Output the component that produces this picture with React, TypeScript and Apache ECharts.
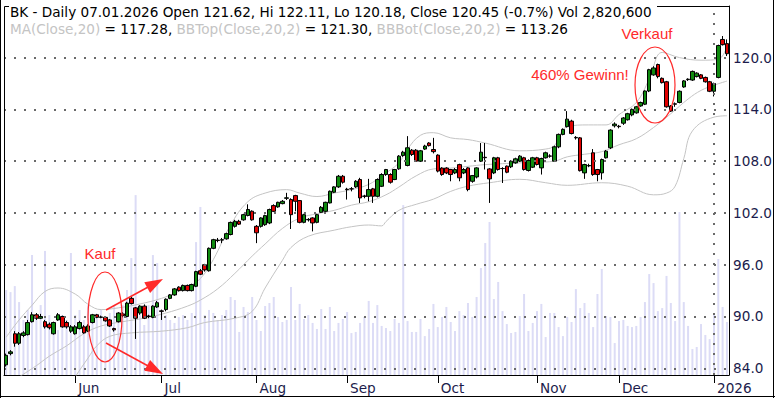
import React, { useEffect, useRef } from 'react';
import * as echarts from 'echarts';

const N = 168;
const categories: string[] = Array.from({ length: N }, (_, i) => String(i));
const monthStarts = [16, 36, 58, 79, 100, 123, 142, 164];
const monthLabels = ['Jun', 'Jul', 'Aug', 'Sep', 'Oct', 'Nov', 'Dec', '2026'];
const priceTicks = [84, 90, 96, 102, 108, 114, 120];

const opens = [84.4,85.7,88.0,86.9,87.8,87.9,89.4,90.2,89.8,89.4,89.1,88.0,89.6,90.0,89.3,88.3,88.0,88.6,88.8,88.3,
89.3,90.2,89.95,89.9,89.6,88.6,89.4,90.3,90.0,92.1,91.0,90.4,91.2,90.05,89.9,91.1,90.65,90.8,92.1,92.5,
93.4,93.0,93.6,93.0,93.5,95.3,96.0,95.3,97.9,98.85,98.85,99.0,99.5,100.45,101.03,101.2,101.7,102.2,100.45,100.45,
100.64,100.84,102.85,102.7,103.08,103.7,103.55,104.01,103.43,100.91,101.25,101.42,100.91,102.07,102.19,103.16,104.4,105.02,106.25,104.75,
104.8,105.02,105.87,103.95,103.93,104.79,103.93,105.09,106.45,106.45,105.87,107.11,108.66,107.5,109.27,109.27,108.0,109.4,110.1,109.35,
108.7,107.2,107.2,107.03,106.64,107.6,106.64,107.22,105.67,106.17,108.0,108.45,107.1,106.64,108.39,107.15,107.42,107.35,107.8,108.0,
108.39,106.92,107.3,108.39,107.22,108.39,108.6,108.0,109.66,111.1,112.0,112.64,110.75,110.7,106.64,107.5,108.97,107.03,106.64,108.39,
109.55,112.1,112.05,112.4,112.8,113.36,113.6,114.4,114.6,116.13,118.0,119.2,117.6,117.2,114.4,114.65,114.8,116.6,117.45,117.4,
117.8,118.0,117.7,117.2,116.1,117.7,122.1,121.62];

const closes = [85.5,85.9,86.9,88.0,88.1,89.3,90.2,89.8,90.0,88.8,88.7,89.3,90.2,88.8,88.8,88.8,88.8,89.3,88.1,88.9,
90.2,89.9,89.9,89.5,88.9,88.45,90.4,90.1,91.55,91.5,89.8,91.2,89.8,90.0,91.2,91.6,90.6,92.0,92.5,93.2,
93.0,93.6,93.0,93.7,95.2,94.9,95.4,97.9,98.9,98.8,98.9,99.6,100.9,101.03,100.7,101.8,102.4,101.2,99.7,101.42,
101.69,102.39,102.19,103.23,103.35,103.75,101.8,103.35,100.91,101.8,101.2,100.84,101.8,102.65,103.23,104.51,105.02,106.25,105.56,104.7,
104.79,105.67,103.74,103.93,104.71,103.93,105.87,106.45,107.03,105.56,107.03,108.58,109.04,109.55,108.77,108.0,109.2,109.75,109.8,109.1,
106.85,106.45,106.64,106.45,107.03,106.07,107.03,104.71,106.33,107.22,109.04,108.4,105.95,108.39,107.03,107.14,106.72,108.0,108.27,108.58,
107.03,108.08,108.39,107.61,108.31,108.97,108.58,109.66,111.1,111.68,112.87,111.2,110.7,106.9,107.61,107.45,106.45,106.45,108.19,109.16,
111.6,112.3,112.0,113.0,113.5,114.0,114.3,114.8,116.13,118.6,118.8,117.8,117.1,114.3,113.8,114.6,116.1,117.3,117.5,118.4,
118.2,117.6,117.2,116.1,117.0,121.4,121.5,120.45];

const lows = [84.2,85.5,86.5,86.7,87.6,87.8,89.3,89.6,89.7,88.6,88.5,87.9,89.5,88.7,88.6,88.1,87.9,88.5,88.0,88.2,
89.2,89.8,89.8,89.4,88.8,88.25,89.3,89.9,89.9,91.4,87.4,90.2,89.7,89.8,89.8,91.0,89.6,90.6,92.0,92.4,
92.9,92.9,92.9,92.9,93.4,94.8,95.2,95.2,97.8,98.6,98.5,98.9,99.4,100.3,100.6,101.1,101.6,101.1,98.5,100.3,
100.5,100.7,102.1,102.6,103.0,103.5,100.14,102.19,100.8,100.8,101.0,99.86,100.8,102.0,102.1,103.1,104.3,104.9,105.4,103.55,
104.5,104.9,103.16,103.7,103.35,103.16,103.8,105.0,106.3,105.4,105.8,107.0,108.5,107.4,108.6,107.9,107.9,109.3,109.7,108.9,
106.7,106.3,106.5,105.67,106.5,105.67,106.5,104.51,105.5,106.0,107.9,107.03,103.16,106.5,106.9,105.47,106.6,107.2,107.7,107.9,
106.9,106.8,107.2,107.5,106.45,108.3,108.4,107.9,109.5,111.0,111.9,111.1,110.5,106.8,105.95,107.3,106.3,105.67,105.87,108.3,
109.4,111.9,111.8,112.2,112.7,113.2,113.5,114.3,114.5,116.0,117.9,117.6,117.0,114.2,113.7,114.3,114.7,116.5,117.3,117.3,
117.7,117.5,117.1,116.0,115.5,117.6,121.4,120.18];

const highs = [85.7,86.1,88.3,88.2,88.3,89.6,90.5,90.4,90.3,89.6,89.3,89.4,90.4,90.1,89.5,89.0,89.0,89.5,89.0,89.1,
90.3,90.3,90.1,90.0,89.7,88.7,90.5,90.5,91.7,92.3,91.1,91.3,91.4,90.2,91.3,91.8,90.8,92.1,92.6,93.3,
93.5,93.7,93.7,93.8,95.3,95.5,96.1,98.0,99.0,99.1,99.1,99.7,101.0,101.2,101.2,101.9,103.0,102.3,100.6,101.5,
101.8,102.5,103.0,103.3,103.5,104.33,103.7,104.1,103.5,101.9,101.4,101.5,101.9,102.8,103.3,104.6,105.1,106.4,106.4,104.91,
105.0,105.8,106.07,104.1,105.95,104.9,106.0,106.6,107.1,106.6,107.1,108.7,109.2,110.9,109.4,109.4,109.3,109.9,110.2,110.7,
108.8,107.3,107.3,107.1,107.2,107.7,107.2,107.3,106.4,107.3,110.1,110.1,107.2,108.5,108.5,107.3,107.5,108.1,108.4,108.7,
108.5,108.2,108.5,108.5,108.4,109.1,108.8,109.8,111.2,111.8,113.8,112.8,110.9,110.8,107.7,107.7,109.4,107.1,108.3,109.3,
111.7,112.5,112.2,113.1,113.6,114.1,114.4,114.9,116.2,118.7,119.0,119.3,117.7,117.3,114.5,114.8,116.2,117.4,117.6,118.5,
118.3,118.1,117.8,117.3,117.1,121.5,122.5,122.11];

// volume in millions of shares
const volumes = [4.52,4.41,4.73,3.88,2.93,3.46,6.38,3.19,3.72,6.60,3.19,2.66,2.39,3.19,2.93,6.49,3.19,3.46,2.93,3.72,
3.19,3.19,3.46,2.93,3.30,3.72,3.19,3.72,4.52,6.22,9.57,3.46,2.66,3.72,6.38,5.96,3.46,3.19,2.93,2.77,
3.09,3.19,2.93,3.30,7.07,8.94,3.19,3.46,3.30,2.93,3.19,3.46,4.15,3.99,2.29,3.62,3.35,4.15,2.93,2.34,
3.67,3.83,4.15,3.09,2.82,2.93,4.68,2.93,3.78,2.98,3.19,2.77,2.45,3.51,2.45,3.62,2.34,2.77,2.98,3.35,
2.23,2.29,2.77,3.09,3.94,2.77,3.72,2.61,2.50,2.34,2.98,2.77,9.04,2.87,2.29,2.29,2.98,2.07,2.45,3.78,
2.55,3.09,3.62,2.82,2.34,3.40,3.19,3.83,3.09,4.15,5.69,7.02,8.14,4.04,4.95,3.40,2.71,2.23,2.29,3.14,
4.31,2.34,2.77,3.40,3.78,2.02,3.30,3.30,2.55,2.07,3.09,2.82,4.57,3.56,3.83,3.30,2.55,4.31,5.64,3.14,
3.09,1.70,2.87,2.93,2.61,2.55,2.61,3.09,3.88,5.37,4.89,3.40,3.56,5.27,3.83,2.87,8.67,3.88,2.61,1.38,
1.49,2.71,2.13,1.91,3.24,6.17,3.62,2.82];

// Bollinger band values read at bar indices [index, value]
const bbTop = [[0,87.6],[3,89.6],[6,91.3],[9,92.9],[12,93.3],[16,92.6],[19,91.4],[22,90.8],[26,91.0],[31,91.45],[36,92.1],[39,92.7],[42,93.4],[45,94.4],[48,96.6],[52,100.6],[56,103.3],[60,104.3],[65,104.7],[68,104.3],[72,103.9],[76,104.3],[80,104.7],[84,105.3],[87,106.3],[91,107.8],[93,109.4],[96,111.0],[99,111.3],[103,110.7],[107,110.5],[111,110.1],[119,109.2],[125,109.4],[127,109.8],[130,112.0],[135,112.2],[139,112.2],[142,113.4],[146,114.8],[149,117.5],[152,120.6],[156,120.0],[161,119.7],[165,119.8],[167,121.3]];
const bbMid = [[3,83.0],[7,84.3],[10,85.4],[14,86.6],[18,88.0],[22,88.9],[27,89.4],[32,89.8],[37,90.4],[42,91.2],[45,91.9],[49,93.2],[53,95.0],[57,97.0],[60,98.4],[64,100.2],[68,101.4],[72,101.9],[76,102.3],[80,102.9],[84,103.3],[88,104.1],[91,105.0],[95,106.3],[99,107.1],[103,107.2],[107,107.4],[111,107.6],[119,107.8],[127,108.0],[130,108.5],[134,108.8],[138,109.1],[142,109.9],[146,110.6],[150,111.9],[154,113.5],[158,115.2],[161,116.2],[164,116.8],[167,117.28]];
const bbBot = [[10,79.5],[14,81.3],[16,83.0],[19,85.2],[21,86.6],[24,87.7],[29,88.1],[36,88.3],[42,88.7],[46,89.3],[53,89.8],[57,90.6],[60,93.3],[64,96.5],[66,98.0],[70,99.3],[76,100.0],[80,100.4],[84,100.6],[87,100.5],[88,101.0],[91,102.3],[95,103.0],[99,103.6],[103,104.5],[107,105.1],[112,105.5],[119,105.9],[125,105.5],[130,105.2],[138,105.5],[144,105.1],[150,104.1],[153,104.3],[155,105.1],[157,108.3],[159,111.5],[164,113.1],[167,113.26]];

const headerLine1 = 'BK - Daily 07.01.2026 Open 121.62, Hi 122.11, Lo 120.18, Close 120.45 (-0.7%) Vol 2,820,600';

const GREEN = '#0f8a0f';
const RED = '#e00000';
const ANNO = '#ff2a2a';
const FONT = 'DejaVu Sans';
const FS = 13.6;

function buildOption() {
  const candleData = opens.map((o, i) => [o, closes[i], lows[i], highs[i]]);
  const bandStyle = { color: '#c4c4c4', width: 1 };
  const isMonth = (i: number) => monthStarts.indexOf(i) >= 0;
  const dotted = { type: [2, 8] as any, color: '#6a6a6a', width: 2 };
  return {
    animation: false,
    backgroundColor: '#ffffff',
    grid: { left: 4, right: 45, top: 6, bottom: 23, containLabel: false },
    xAxis: {
      type: 'category',
      data: categories,
      boundaryGap: true,
      axisLine: { show: true, lineStyle: { color: '#000', width: 1 } },
      axisTick: { show: true, alignWithLabel: true, length: 8, interval: (i: number) => isMonth(i), lineStyle: { color: '#000' } },
      axisLabel: {
        interval: (i: number) => isMonth(i),
        formatter: (_v: string, i: number) => monthLabels[monthStarts.indexOf(i)] || '',
        align: 'left',
        padding: [0, 0, 0, 3],
        margin: 6,
        color: '#1c1c4c',
        fontFamily: FONT,
        fontSize: FS,
      },
      splitLine: { show: false },
    },
    yAxis: [
      {
        type: 'value',
        position: 'right',
        min: 83.22,
        max: 125.98,
        axisLine: { show: true, lineStyle: { color: '#000', width: 1 } },
        axisTick: { show: false },
        splitLine: { show: false },
        axisLabel: {
          customValues: priceTicks,
          formatter: (v: number) => v.toFixed(1),
          margin: 4,
          color: '#1c1c4c',
          fontFamily: FONT,
          fontSize: FS,
        },
      },
      { type: 'value', min: 0, max: 19.63, show: false },
    ],
    series: [
      {
        type: 'bar',
        yAxisIndex: 1,
        data: volumes,
        barWidth: 2,
        itemStyle: { color: '#dcdcf6' },
        z: 1,
        silent: true,
      },
      {
        type: 'line',
        data: bbTop,
        smooth: 0.4,
        symbol: 'none',
        connectNulls: true,
        lineStyle: bandStyle,
        z: 2,
        silent: true,
      },
      {
        type: 'line',
        data: bbMid,
        smooth: 0.4,
        symbol: 'none',
        connectNulls: true,
        lineStyle: bandStyle,
        z: 2,
        silent: true,
        markLine: {
          silent: true,
          symbol: ['none', 'none'],
          label: { show: false },
          lineStyle: dotted,
          data: [
            ...priceTicks.map((v) => ({ yAxis: v })),
            { xAxis: categories[monthStarts[monthStarts.length - 1]] },
          ],
        },
      },
      {
        type: 'line',
        data: bbBot,
        smooth: 0.4,
        symbol: 'none',
        connectNulls: true,
        lineStyle: bandStyle,
        z: 2,
        silent: true,
      },
      {
        type: 'candlestick',
        data: candleData,
        barWidth: 4,
        z: 3,
        itemStyle: {
          color: GREEN,
          color0: RED,
          borderColor: '#000',
          borderColor0: '#000',
          borderWidth: 1,
        },
      },
    ],
    graphic: [
      { type: 'line', z: 100, shape: { x1: 4.5, y1: 6.5, x2: 730, y2: 6.5 }, style: { stroke: '#000', lineWidth: 1 } },
      { type: 'line', z: 100, shape: { x1: 4.5, y1: 6.5, x2: 4.5, y2: 375 }, style: { stroke: '#000', lineWidth: 1 } },
      { type: 'line', z: 100, shape: { x1: 0.5, y1: 0, x2: 0.5, y2: 398 }, style: { stroke: '#000', lineWidth: 1 } },
      { type: 'line', z: 100, shape: { x1: 0, y1: 396.5, x2: 775, y2: 396.5 }, style: { stroke: '#000', lineWidth: 1 } },
      { type: 'line', z: 100, shape: { x1: 773.5, y1: 0, x2: 773.5, y2: 398 }, style: { stroke: '#000', lineWidth: 1 } },
      { type: 'rect', z: 100, shape: { x: 9, y: 0, width: 648, height: 17 }, style: { fill: '#fff' } },
      {
        type: 'text', z: 101, x: 10, y: 12,
        style: { text: headerLine1, fill: '#000', fontFamily: FONT, fontSize: FS, verticalAlign: 'middle' },
      },
      {
        type: 'text', z: 101, x: 10, y: 29,
        style: {
          text: '{g|MA(Close,20)}{k| = 117.28, }{g|BBTop(Close,20,2)}{k| = 121.30, }{g|BBBot(Close,20,2)}{k| = 113.26}',
          fontFamily: FONT, fontSize: FS, verticalAlign: 'middle',
          rich: {
            g: { fill: '#c4c4c4', fontFamily: FONT, fontSize: FS },
            k: { fill: '#000', fontFamily: FONT, fontSize: FS },
          },
        },
      },
      // Kauf annotation
      { type: 'ellipse', z: 102, shape: { cx: 105, cy: 317, rx: 17, ry: 45 }, style: { stroke: ANNO, fill: 'none', lineWidth: 1.2 } },
      { type: 'text', z: 102, x: 100, y: 253, style: { text: 'Kauf', fill: ANNO, fontFamily: 'Liberation Sans', fontSize: 15, align: 'center', verticalAlign: 'middle' } },
      { type: 'line', z: 102, shape: { x1: 106, y1: 310, x2: 150, y2: 286 }, style: { stroke: ANNO, lineWidth: 1.5 } },
      { type: 'polygon', z: 102, shape: { points: [[163, 279], [144.3, 282.3], [150.1, 292.9]] }, style: { fill: ANNO } },
      { type: 'line', z: 102, shape: { x1: 106, y1: 343, x2: 150, y2: 367 }, style: { stroke: ANNO, lineWidth: 1.5 } },
      { type: 'polygon', z: 102, shape: { points: [[163, 374], [150.1, 360.1], [144.3, 370.7]] }, style: { fill: ANNO } },
      // Verkauf annotation
      { type: 'ellipse', z: 102, shape: { cx: 655, cy: 85, rx: 20, ry: 38 }, style: { stroke: ANNO, fill: 'none', lineWidth: 1.2 } },
      { type: 'text', z: 102, x: 647, y: 33, style: { text: 'Verkauf', fill: ANNO, fontFamily: 'Liberation Sans', fontSize: 15, align: 'center', verticalAlign: 'middle' } },
      { type: 'text', z: 102, x: 580, y: 74, style: { text: '460% Gewinn!', fill: ANNO, fontFamily: 'Liberation Sans', fontSize: 15, align: 'center', verticalAlign: 'middle' } },
    ],
  };
}

export default function App() {
  const ref = useRef<HTMLDivElement>(null);
  useEffect(() => {
    document.body.style.margin = '0';
    if (!ref.current) return;
    const chart = echarts.init(ref.current, null, { renderer: 'svg' });
    chart.setOption(buildOption() as any);
    return () => chart.dispose();
  }, []);
  return <div ref={ref} style={{ position: 'absolute', left: 0, top: 0, width: 775, height: 398 }} />;
}
